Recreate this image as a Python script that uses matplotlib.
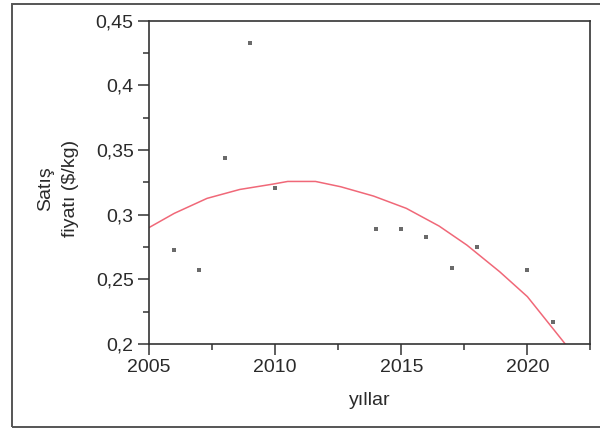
import matplotlib
matplotlib.use("Agg")
import matplotlib.pyplot as plt
from matplotlib.patches import Rectangle
from matplotlib.ticker import MultipleLocator, FuncFormatter

# observed sale prices
years = [2006, 2007, 2008, 2009, 2010, 2014, 2015, 2016, 2017, 2018, 2020, 2021]
prices = [0.273, 0.257, 0.344, 0.433, 0.321, 0.289, 0.289, 0.283, 0.259, 0.275, 0.257, 0.217]

# trend curve
trend_x = [2005, 2006, 2007.3, 2008.6, 2009.9, 2010.5, 2011.6, 2012.6,
           2013.9, 2015.2, 2016.5, 2017.6, 2018.9, 2020, 2021.5]
trend_y = [0.290, 0.301, 0.3126, 0.3195, 0.3236, 0.3257, 0.3257, 0.3216,
           0.3144, 0.3049, 0.2912, 0.2765, 0.2559, 0.2366, 0.200]

TEXT = "#2a2a2a"
SPINE = "#333333"
CURVE = "#f06878"

plt.rcParams.update({
    "font.family": ["Liberation Sans", "DejaVu Sans"],
    "font.size": 14,
    "text.color": TEXT,
    "axes.labelcolor": TEXT,
    "xtick.color": SPINE,
    "ytick.color": SPINE,
    "xtick.labelcolor": TEXT,
    "ytick.labelcolor": TEXT,
})

fig = plt.figure(figsize=(6, 4.28), dpi=100)
ax = fig.add_axes([0.2483, 0.1963, 0.7358, 0.7553])

ax.plot(trend_x, trend_y, color=CURVE, linewidth=1.1, zorder=2)
ax.plot(years, prices, linestyle="none", marker="s", markersize=2.6,
        markeredgewidth=0, color="#6a6a6a", zorder=3)

ax.set_xlim(2005, 2022.5)
ax.set_ylim(0.2, 0.45)
ax.xaxis.set_major_locator(MultipleLocator(5))
ax.xaxis.set_minor_locator(MultipleLocator(2.5))
ax.yaxis.set_major_locator(MultipleLocator(0.05))
ax.yaxis.set_minor_locator(MultipleLocator(0.025))
ax.yaxis.set_major_formatter(FuncFormatter(lambda v, p: f"{v:g}".replace(".", ",")))

ax.tick_params(which="major", length=8, width=1.1, pad=3, labelsize=14)
ax.tick_params(which="minor", length=4, width=1.1)
for s in ax.spines.values():
    s.set_color(SPINE)
    s.set_linewidth(1.2)

ax.set_xlabel("yıllar", fontsize=14, labelpad=11)
ax.set_ylabel("Satış\nfiyatı ($/kg)", fontsize=14, multialignment="center", linespacing=1.6)
ax.yaxis.set_label_coords(-0.159, 0.48)

# outer frame around the whole chart
fig.patches.append(Rectangle((12 / 600, 1 - 427 / 428), 1.0, 423 / 428,
                             transform=fig.transFigure, fill=False,
                             edgecolor="#555555", linewidth=1.4))

fig.savefig("out.png", dpi=100)
